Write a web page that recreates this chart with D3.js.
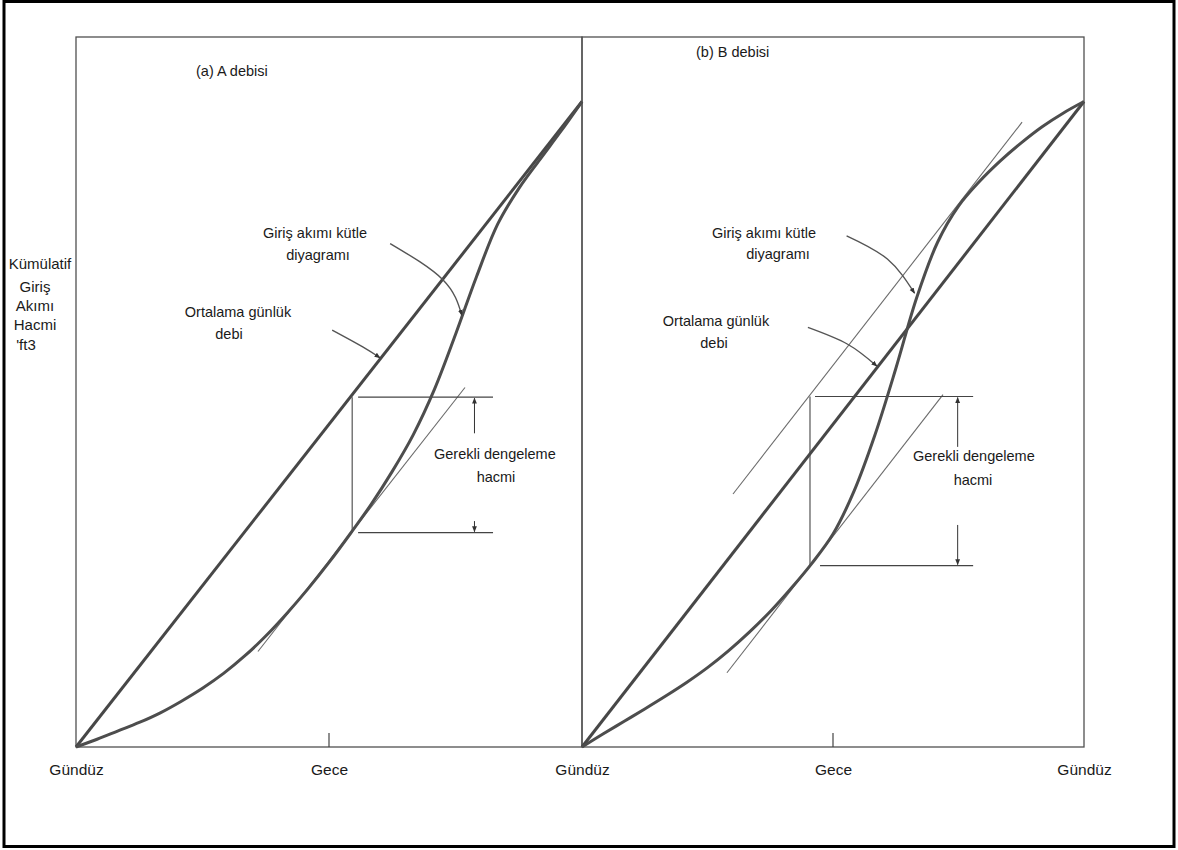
<!DOCTYPE html>
<html><head><meta charset="utf-8">
<script src="https://cdn.jsdelivr.net/npm/d3@7"></script>
<style>
body{margin:0;background:#fff}
svg{display:block}
text{font-family:"Liberation Sans",Arial,sans-serif;fill:#1a1a1a}
</style>
</head><body>
<svg id="c" width="1178" height="850"></svg>
<script>
// ---------- data (hours of the day vs. cumulative inflow, % of daily total) ----------
const hours = [0,1,2,3,4,5,6,7,8,9,10,11,12,13,14,15,16,17,18,19,20,21,22,23,24];
const massA = [0,1.2,2.5,3.8,5.3,7.1,9.1,11.4,14.1,17.2,20.7,24.5,28.6,33.0,37.6,42.7,48.4,55.4,63.9,72.9,81.0,86.5,91.0,95.4,100];
const massB = [0,2.0,3.95,5.9,7.9,10.0,12.3,14.9,17.8,21.0,24.6,28.5,33.0,39.6,48.3,58.6,69.6,78.2,83.8,87.6,90.8,93.6,96.1,98.2,100];
const avgHours = [0,24];
const avgValues = [0,100];
const tickHours = [0,12,24];
const tickLabels = ["Gündüz","Gece","Gündüz"];
const panelTitles = ["(a) A debisi","(b) B debisi"];
const yLabel = ["Kümülatif","Giriş","Akımı","Hacmi","'ft3"];
const massLabel = ["Giriş akımı kütle","diyagramı"];
const avgLabel = ["Ortalama günlük","debi"];
const storageLabel = ["Gerekli dengeleme","hacmi"];
// tangent lines parallel to the average rate [hour, value]
const tangentA = [[8.63,14.8],[18.45,55.7]];
const tangentBLow = [[6.93,11.5],[17.26,54.6]];
const tangentBUp = [[7.22,39.2],[21.04,96.8]];
// required storage brackets: vertical hour, levels (top,bottom), horizontal starts, end, arrow hour + arrow tails
const gapHourA = 13.1, gapLevelsA = [54.2,33.2], gapStartA = [13.38,13.38], gapEndA = 19.78, gapArrowA = [18.9,48.6,35.0];
const gapHourB = 10.9, gapLevelsB = [54.3,28.1], gapStartB = [11.14,11.38], gapEndB = 18.7, gapArrowB = [17.96,46.5,34.4];
// leader arcs [hour, value]
const arcMassA = [[14.9,78.0],[17.4,72.4],[18.3,66.9]];
const arcAvgA = [[12.15,64.6],[13.6,62.0],[14.42,60.3]];
const arcMassB = [[12.65,79.2],[14.6,75.6],[15.9,70.3]];
const arcAvgB = [[10.8,65.0],[12.7,62.4],[14.1,59.0]];

// ---------- drawing ----------
const svg = d3.select("#c");
const y = d3.scaleLinear().domain([0,110]).range([747,37]);
const xA = d3.scaleLinear().domain([0,24]).range([76,582]);
const xB = d3.scaleLinear().domain([0,24]).range([582,1084]);

const defs = svg.append("defs");
defs.append("marker").attr("id","ah").attr("viewBox","0 0 10 10")
  .attr("refX",9).attr("refY",5).attr("markerWidth",6).attr("markerHeight",7)
  .attr("markerUnits","userSpaceOnUse").attr("orient","auto")
  .append("path").attr("d","M0,1 L10,5 L0,9 z").attr("fill","#333");

// outer black frame
svg.append("rect").attr("x",4).attr("y",1.5).attr("width",1170).attr("height",845)
  .attr("fill","none").attr("stroke","#000").attr("stroke-width",3);

const frameColor = "#505050";
function panelFrame(x){
  const [x0,x1] = x.range();
  svg.append("rect").attr("x",x0).attr("y",y(110)).attr("width",x1-x0).attr("height",y(0)-y(110))
    .attr("fill","none").attr("stroke",frameColor).attr("stroke-width",1.3);
}
panelFrame(xA); panelFrame(xB);

function drawPanel(x, mass, tangents, gapHour, gapLevels, gapStart, gapEnd, gapArrow, arcMass, arcAvg){
  const g = svg.append("g");
  const line = d3.line().x(d=>x(d[0])).y(d=>y(d[1]));
  const smooth = d3.line().x(d=>x(d[0])).y(d=>y(d[1])).curve(d3.curveCatmullRom.alpha(0.5));
  const arcLine = d3.line().x(d=>x(d[0])).y(d=>y(d[1])).curve(d3.curveNatural);
  tangents.forEach(t=>{
    g.append("path").attr("d",line(t)).attr("fill","none").attr("stroke","#6a6a6a").attr("stroke-width",1.1);
  });
  g.append("line").attr("x1",x(gapHour)).attr("x2",x(gapHour)).attr("y1",y(gapLevels[0])).attr("y2",y(gapLevels[1]))
    .attr("stroke","#555").attr("stroke-width",1.2);
  gapLevels.forEach((lv,i)=>{
    g.append("line").attr("x1",x(gapStart[i])).attr("x2",x(gapEnd)).attr("y1",y(lv)).attr("y2",y(lv))
      .attr("stroke","#444").attr("stroke-width",1.2);
  });
  g.append("line").attr("x1",x(gapArrow[0])).attr("x2",x(gapArrow[0])).attr("y1",y(gapArrow[1])).attr("y2",y(gapLevels[0])+1)
    .attr("stroke","#333").attr("stroke-width",1).attr("marker-end","url(#ah)");
  g.append("line").attr("x1",x(gapArrow[0])).attr("x2",x(gapArrow[0])).attr("y1",y(gapArrow[2])).attr("y2",y(gapLevels[1])-1)
    .attr("stroke","#333").attr("stroke-width",1).attr("marker-end","url(#ah)");
  g.append("path").attr("d",line(avgHours.map((h,i)=>[h,avgValues[i]])))
    .attr("fill","none").attr("stroke","#474747").attr("stroke-width",3);
  g.append("path").attr("d",smooth(hours.map((h,i)=>[h,mass[i]])))
    .attr("fill","none").attr("stroke","#4d4d4d").attr("stroke-width",3);
  [arcMass,arcAvg].forEach(a=>{
    g.append("path").attr("d",arcLine(a)).attr("fill","none").attr("stroke","#555").attr("stroke-width",1.4)
      .attr("marker-end","url(#ah)");
  });
  g.append("line").attr("x1",x(12)).attr("x2",x(12)).attr("y1",y(0)).attr("y2",y(0)-14)
    .attr("stroke","#444").attr("stroke-width",1.2);
}
drawPanel(xA, massA, [tangentA], gapHourA, gapLevelsA, gapStartA, gapEndA, gapArrowA, arcMassA, arcAvgA);
drawPanel(xB, massB, [tangentBLow, tangentBUp], gapHourB, gapLevelsB, gapStartB, gapEndB, gapArrowB, arcMassB, arcAvgB);

// x axes (labels only)
function axis(x, vals){
  const g = svg.append("g").attr("transform",`translate(0,${y(0)})`)
    .call(d3.axisBottom(x).tickValues(vals).tickSize(0).tickPadding(17)
      .tickFormat(d=>tickLabels[tickHours.indexOf(d)]));
  g.select(".domain").remove();
  g.selectAll("text").style("font-family",'"Liberation Sans",Arial,sans-serif').style("font-size","15.5px").attr("fill","#1a1a1a");
}
axis(xA,[0,12]);
axis(xB,[0,12,24]);

// texts
const fs = "14.5px";
function txt(s, px, py, anchor, size){
  svg.append("text").attr("x",px).attr("y",py).attr("text-anchor",anchor||"middle")
    .attr("dominant-baseline","central").style("font-size",size||fs).text(s);
}
txt(panelTitles[0], 196, 71, "start");
txt(panelTitles[1], 696, 52, "start");
[263,286,305,324,344].forEach((py,i)=> txt(yLabel[i], i===0?40:(i===4?26:35), py, "middle", "15px"));
txt(massLabel[0], 315, 233); txt(massLabel[1], 318, 255);
txt(avgLabel[0], 238, 312); txt(avgLabel[1], 229, 334);
txt(storageLabel[0], 434, 454, "start"); txt(storageLabel[1], 496, 477);
txt(massLabel[0], 764, 233); txt(massLabel[1], 778, 254);
txt(avgLabel[0], 716, 321); txt(avgLabel[1], 714, 343);
txt(storageLabel[0], 913, 456, "start"); txt(storageLabel[1], 973, 480);
</script>
</body></html>
